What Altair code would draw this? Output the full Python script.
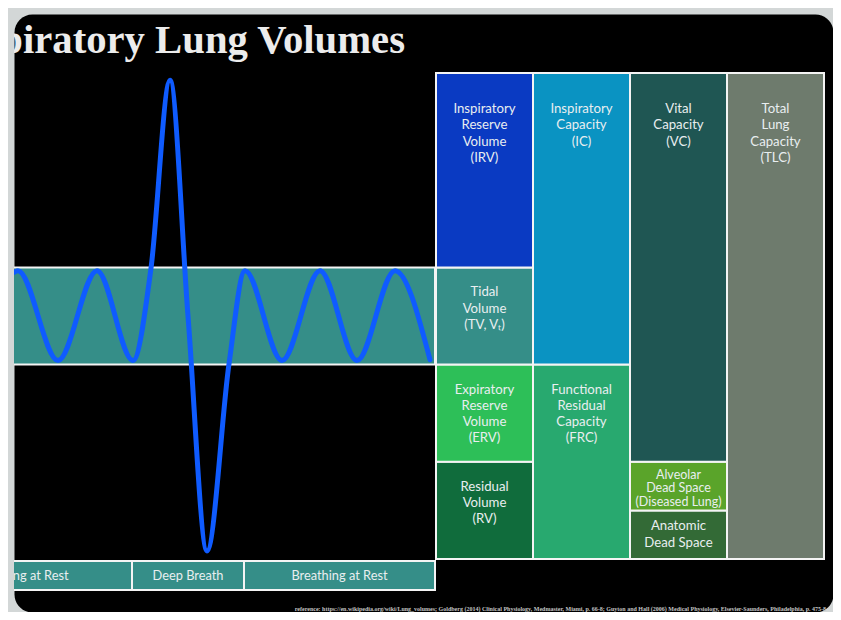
import altair as alt
import pandas as pd

# ---------------- data ----------------
# Lung-volume compartments (schematic litres), stacked bottom-up in each column
box_keys = ["RV", "ERV", "TV", "IRV", "FRC", "IC", "ADS", "ALV", "VC", "TLC"]
box_column = [0, 0, 0, 0, 1, 1, 2, 2, 2, 3]
box_volume = [1.2, 1.2, 1.2, 2.4, 2.4, 3.6, 0.6, 0.6, 4.8, 6.0]
box_labels = [
    "Residual\nVolume\n(RV)",
    "Expiratory\nReserve\nVolume\n(ERV)",
    "Tidal\nVolume\n(TV, V\u209c)",
    "Inspiratory\nReserve\nVolume\n(IRV)",
    "Functional\nResidual\nCapacity\n(FRC)",
    "Inspiratory\nCapacity\n(IC)",
    "Anatomic\nDead Space",
    "Alveolar\nDead Space\n(Diseased Lung)",
    "Vital\nCapacity\n(VC)",
    "Total\nLung\nCapacity\n(TLC)",
]
box_colors = ["#106c3c", "#2dbf58", "#358e88", "#0a3ac2", "#28a96f",
              "#0a93c2", "#336a36", "#5aa42a", "#1f5653", "#6e7b6d"]

# Spirogram trace: time (s) and lung volume (L)
wave_time = [0, 0.2, 2.2, 4.15, 5.95, 6.85, 7.8, 8.7, 9.65, 10.75, 11.55,
             13.4, 15.3, 17.15, 19.05, 20.8]
wave_volume = [3.54, 3.56, 2.45, 3.56, 2.45, 3.59, 5.91, 3.0, 0.10, 2.41, 3.56,
               2.45, 3.56, 2.45, 3.56, 2.46]

# Breathing phases along the time axis
phase_labels = ["Breathing at Rest", "Deep Breath", "Breathing at Rest"]
phase_start = [-5.25, 5.9, 11.5]
phase_end = [5.9, 11.5, 21.05]

TITLE = "Respiratory Lung Volumes"
REFERENCE = ("reference: https://en.wikipedia.org/wiki/Lung_volumes; Goldberg (2014) Clinical Physiology, "
             "Medmaster, Miami, p. 66-8; Guyton and Hall (2006) Medical Physiology, Elsevier-Saunders, "
             "Philadelphia, p. 475-8")

# ---------------- tables ----------------
boxes = pd.DataFrame({"key": box_keys, "col": box_column, "vol": box_volume, "label": box_labels})
boxes["hi"] = boxes.groupby("col")["vol"].cumsum()
boxes["lo"] = boxes["hi"] - boxes["vol"]
boxes["col_end"] = boxes["col"] + 1
boxes["mid"] = boxes["col"] + 0.5

wave = pd.DataFrame({"t": wave_time, "v": wave_volume})
phases = pd.DataFrame({"label": phase_labels, "start": phase_start, "end": phase_end})
phases["mid"] = (phases["start"] + phases["end"]) / 2

tv = boxes[boxes["key"] == "TV"].iloc[0]
band = pd.DataFrame({"start": [min(phase_start)], "end": [max(phase_end)],
                     "lo": [tv["lo"]], "hi": [tv["hi"]]})

# ---------------- styles ----------------
WHITE = "#f4f4f4"
TEAL = "#358e88"
BLUE = "#0f5bff"
TXT = "#e9eef0"
FONT = "Lato"

tscale = alt.Scale(domain=[0, 20], range=[0, 400], nice=False, zero=False)
cscale = alt.Scale(domain=[0, 4], range=[422, 810], nice=False, zero=False)
vscale = alt.Scale(domain=[0, 6], range=[545, 59], nice=False, zero=False)
cscale_color = alt.Scale(domain=box_keys, range=box_colors)

band_layer = alt.Chart(band).mark_rect(fill=TEAL, stroke=WHITE, strokeWidth=2, clip=True).encode(
    x=alt.X("start:Q", scale=tscale, axis=None), x2="end:Q",
    y=alt.Y("lo:Q", scale=vscale, axis=None), y2="hi:Q")

phase_rect = alt.Chart(phases).mark_rect(fill=TEAL, stroke=WHITE, strokeWidth=2, clip=True).encode(
    x=alt.X("start:Q", scale=tscale, axis=None), x2="end:Q",
    y=alt.value(547), y2=alt.value(576))

phase_text = alt.Chart(phases).mark_text(font=FONT, fontSize=12.8, color=TXT, clip=True).encode(
    x=alt.X("mid:Q", scale=tscale, axis=None), y=alt.value(562), text="label:N")

box_layer = alt.Chart(boxes).mark_rect(stroke=WHITE, strokeWidth=2).encode(
    x=alt.X("col:Q", scale=cscale, axis=None), x2="col_end:Q",
    y=alt.Y("lo:Q", scale=vscale, axis=None), y2="hi:Q",
    color=alt.Color("key:N", scale=cscale_color, legend=None))

wave_layer = alt.Chart(wave).mark_line(color=BLUE, strokeWidth=5, interpolate="monotone",
                                       strokeCap="round", clip=True).encode(
    x=alt.X("t:Q", scale=tscale, axis=None), y=alt.Y("v:Q", scale=vscale, axis=None))


def box_text(keys, dy, size=13.2, lh=16.3):
    return alt.Chart(boxes).transform_filter(
        alt.FieldOneOfPredicate(field="key", oneOf=keys)
    ).mark_text(font=FONT, fontSize=size, color=TXT, lineBreak="\n", lineHeight=lh,
                baseline="alphabetic", dy=dy).encode(
        x=alt.X("mid:Q", scale=cscale, axis=None),
        y=alt.Y("hi:Q", scale=vscale, axis=None), text="label:N")


text_top = box_text(["IRV", "IC", "VC", "TLC"], 40)
text_mid = box_text(["TV", "ERV", "FRC", "RV"], 29)
text_alv = box_text(["ALV"], 17, size=12.5, lh=13.5)
text_ads = box_text(["ADS"], 20, lh=16.5)

title_layer = alt.Chart(pd.DataFrame({"t": [TITLE]})).mark_text(
    align="right", baseline="alphabetic", font="Liberation Serif", fontWeight="bold",
    fontSize=40.7, color="#ececec", clip=True).encode(
    x=alt.value(391), y=alt.value(39), text="t:N")

ref_layer = alt.Chart(pd.DataFrame({"t": [REFERENCE]})).mark_text(
    align="right", baseline="alphabetic", font="Liberation Serif", fontWeight="bold",
    fontSize=6, color="#c4c4c4").encode(
    x=alt.value(812), y=alt.value(597), text="t:N")

chart = alt.layer(
    band_layer, phase_rect, box_layer, wave_layer, phase_text,
    text_top, text_mid, text_alv, text_ads, title_layer, ref_layer
).resolve_scale(x="independent").properties(
    width=819, height=598,
    autosize=alt.AutoSizeParams(type="none"),
    padding={"left": 6, "top": 6, "right": 0, "bottom": 0},
    background="#d3d7d7",
).configure_view(fill="black", stroke="transparent", cornerRadius=18)

chart.save("out.html", embed_options={"renderer": "svg", "actions": False})
